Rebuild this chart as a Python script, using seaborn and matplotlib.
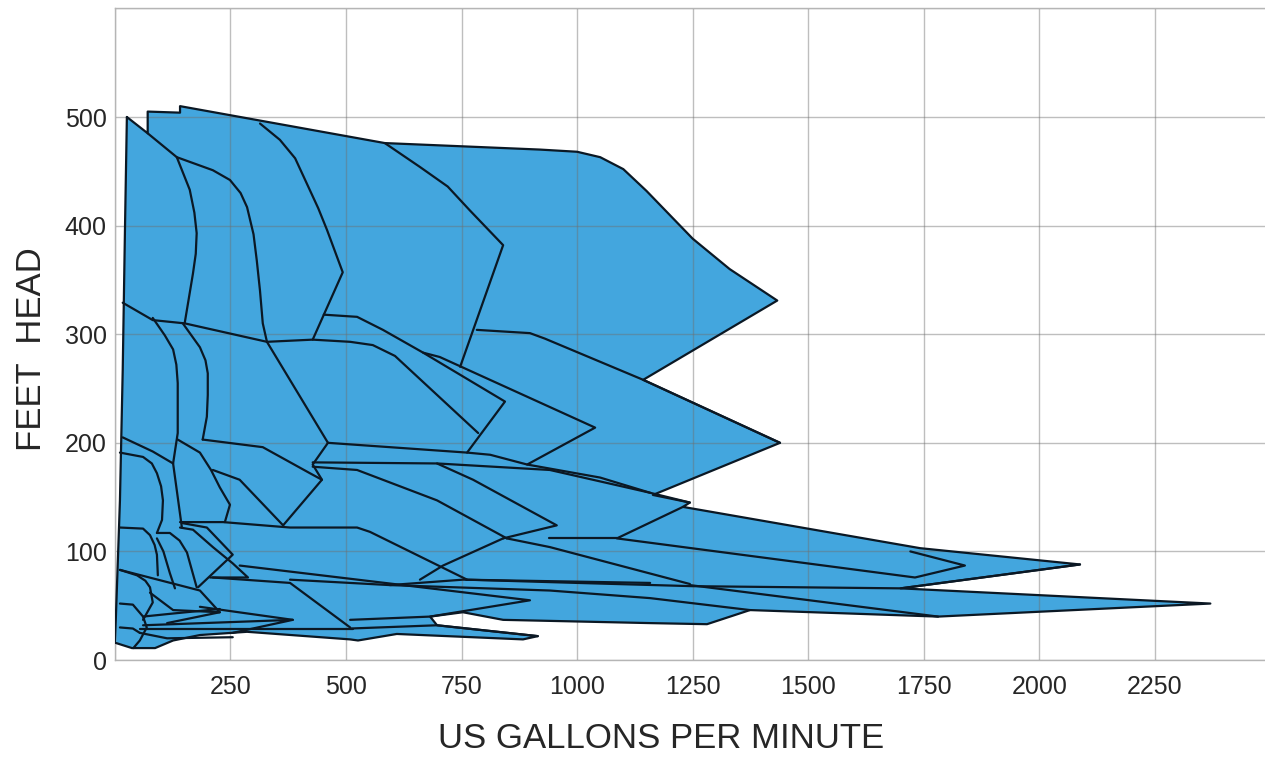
#!/usr/bin/env python3
"""Pump coverage chart: feet head vs US gallons per minute."""

import matplotlib
matplotlib.use("Agg")
import matplotlib.pyplot as plt
import seaborn as sns
import pandas as pd

# outer envelope of the coverage area (gpm, ft), clockwise from the top-left tip
envelope_gpm = [26, 71, 71, 141, 141, 584, 920, 1000, 1050, 1100, 1150, 1200, 1250, 1330, 1433,
                1143, 1439, 1164, 1244, 1229, 1742, 2088, 1700, 2370, 1781, 1374, 1281, 1158,
                840, 753, 682, 697, 915, 883, 610, 526, 509, 286, 184, 126, 87, 37, 0, 2, 11, 17, 22]
envelope_ft = [500, 485, 505, 504, 510, 476, 470, 468, 463, 452, 432, 410, 388, 360, 331,
               258, 200, 152, 145, 141, 103, 88, 66, 52, 40, 46, 33, 34,
               37, 44, 40, 32, 22, 19, 24, 18, 19, 26, 23, 18, 11, 11, 16, 37, 147, 267, 400]

# internal pump curves (gpm list, ft list)
curves = {
    "u1": ([71, 134, 212, 249, 272, 286, 300, 307, 314, 320, 329],
           [485, 463, 451, 442, 430, 417, 392, 368, 340, 310, 293]),
    "u2": ([134, 162, 172, 177, 175, 169, 151], [463, 433, 412, 393, 374, 356, 310]),
    "u3": ([314, 357, 390, 415, 440, 459, 493, 428], [494, 479, 462, 439, 416, 396, 357, 295]),
    "u4": ([17, 82, 151, 329, 428, 509, 558, 606, 786], [329, 313, 310, 293, 295, 293, 290, 280, 209]),
    "u5": ([452, 524, 580, 667, 844, 762], [318, 316, 304, 283, 238, 191]),
    "u6": ([667, 703, 1039, 892], [283, 279, 214, 180]),
    "u8": ([329, 461], [293, 200]),
    "u9": ([461, 762, 812, 892, 1050, 1158, 1244], [200, 191, 189, 180, 168, 154, 145]),
    "u10": ([783, 898, 930, 1143, 1439], [304, 301, 296, 258, 200]),
    "u11": ([584, 660, 720, 768, 840, 747], [476, 454, 436, 414, 382, 270]),
    "m1": ([82, 108, 126, 133, 136, 136, 126, 145], [315, 299, 286, 272, 255, 209, 181, 122]),
    "m2": ([147, 184, 196, 201, 201, 199, 190], [310, 288, 276, 264, 244, 224, 203]),
    "m3": ([17, 82, 126], [205, 192, 181]),
    "m4": ([11, 61, 80, 91, 100, 104, 102, 91], [191, 187, 181, 172, 160, 147, 129, 117]),
    "m5": ([136, 184, 208, 227, 249, 238], [203, 191, 175, 159, 143, 127]),
    "m6": ([190, 320, 422, 448, 364], [203, 196, 172, 166, 124]),
    "m7": ([212, 270, 364], [175, 166, 124]),
    "m8": ([141, 234, 379, 524, 552, 762], [127, 127, 122, 122, 118, 74]),
    "m9": ([428, 697, 941, 1158], [182, 181, 175, 154]),
    "m10": ([461, 428, 448], [200, 180, 166]),
    "m11": ([428, 524, 697, 848], [178, 175, 147, 112]),
    "m12": ([697, 775, 956, 840], [181, 166, 124, 112]),
    "m14": ([840, 710, 660], [112, 87, 74]),
    "r1": ([1721, 1839, 1731, 1086, 1229], [100, 87, 76, 112, 141]),
    "r2": ([1086, 940], [112, 112]),
    "r3": ([2088, 1700, 1250, 1000, 760], [88, 66, 68, 71, 74]),
    "r4": ([1781, 1244], [40, 69]),
    "r5": ([848, 941, 1244], [112, 104, 70]),
    "l1": ([11, 61, 76, 86, 91, 93], [122, 121, 115, 106, 97, 78]),
    "l2": ([91, 119, 140, 156, 177], [117, 117, 110, 99, 67]),
    "l3": ([141, 169, 212, 255, 288, 206], [122, 120, 104, 89, 76, 76]),
    "l4": ([147, 199, 255, 180], [126, 122, 97, 67]),
    "l5": ([11, 48, 66, 76, 82, 61], [83, 78, 73, 67, 53, 37]),
    "l6": ([11, 184, 227, 113], [83, 64, 44, 34]),
    "l7": ([76, 126, 227], [62, 46, 44]),
    "l8": ([11, 39, 61, 69, 54, 40], [52, 51, 40, 30, 18, 11]),
    "l9": ([11, 39, 54], [30, 29, 25]),
    "l10": ([61, 385, 255], [32, 37, 25]),
    "l11": ([54, 515], [29, 29]),
    "l12": ([54, 113, 255], [25, 20, 21]),
    "l13": ([212, 379, 509], [76, 71, 30]),
    "l14": ([184, 385], [49, 37]),
    "l15": ([595, 941, 1158, 1374], [69, 64, 57, 46]),
    "l16": ([270, 898, 682, 509], [87, 55, 40, 37]),
    "l17": ([509, 697, 915], [29, 32, 22]),
    "l18": ([379, 595, 753, 1158], [74, 69, 74, 71]),
    "l20": ([91, 105, 119, 130], [112, 100, 80, 66]),
    "l21": ([61, 130, 227], [40, 43, 47]),
}

x_ticks = [0, 250, 500, 750, 1000, 1250, 1500, 1750, 2000, 2250, 2500]
x_tick_labels = ["", "250", "500", "750", "1000", "1250", "1500", "1750", "2000", "2250", ""]
y_ticks = [0, 100, 200, 300, 400, 500, 600]
y_tick_labels = ["0", "100", "200", "300", "400", "500", ""]

FILL = "#43a6de"
EDGE = "#0b1824"

sns.set_style("white")
plt.rcParams["font.family"] = ["Liberation Sans", "DejaVu Sans"]

fig = plt.figure(figsize=(12.65, 7.57), dpi=100)
ax = fig.add_axes([0.0908, 0.1281, 0.9135, 0.8608])

# build long-form table of the curves for seaborn
rows = []
for name, (gx, gy) in curves.items():
    for i, (a, b) in enumerate(zip(gx, gy)):
        rows.append({"curve": name, "step": i, "gpm": a, "ft": b})
df = pd.DataFrame(rows)

ax.fill(envelope_gpm, envelope_ft, color=FILL, zorder=1, lw=0)
# grid drawn over the fill, as in the reference
for xv in x_ticks:
    ax.axvline(xv, color="#6f6f6f", alpha=0.45, lw=1.0, zorder=2)
for yv in y_ticks:
    ax.axhline(yv, color="#6f6f6f", alpha=0.45, lw=1.0, zorder=2)

sns.lineplot(data=df, x="gpm", y="ft", units="curve", estimator=None, sort=False,
             color=EDGE, lw=1.6, ax=ax, zorder=3)
ax.plot(envelope_gpm + envelope_gpm[:1], envelope_ft + envelope_ft[:1],
        color=EDGE, lw=1.6, zorder=3)

ax.set_xlim(0, 2500)
ax.set_ylim(0, 600)
ax.set_xticks(x_ticks)
ax.set_xticklabels(x_tick_labels, fontsize=18)
ax.set_yticks(y_ticks)
ax.set_yticklabels(y_tick_labels, fontsize=18)
ax.tick_params(length=0, pad=11, axis="x")
ax.tick_params(length=0, pad=6, axis="y")
ax.set_xlabel("US GALLONS PER MINUTE", fontsize=25, labelpad=16)
ax.set_ylabel("FEET  HEAD", fontsize=25, labelpad=12)
ax.xaxis.label.set_x(0.473)
ax.yaxis.label.set_y(0.477)
for s in ax.spines.values():
    s.set_color("#b5b5b5")
    s.set_linewidth(1.0)

fig.savefig("out.png", dpi=100)
